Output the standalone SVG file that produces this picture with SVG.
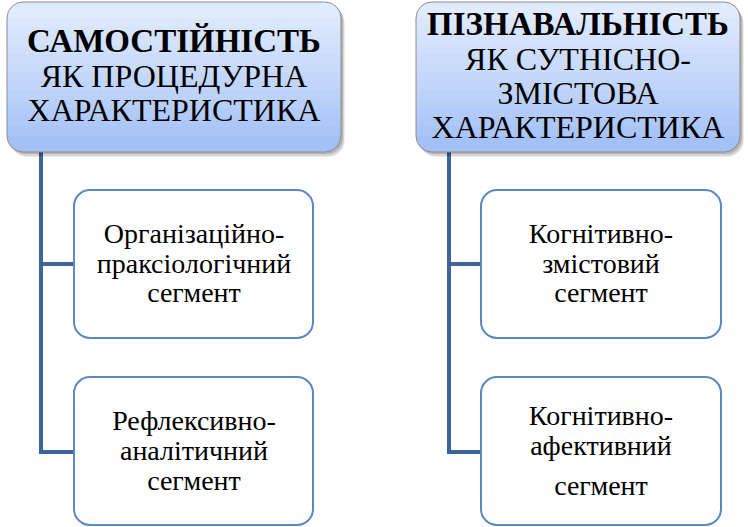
<svg xmlns="http://www.w3.org/2000/svg" width="748" height="527" viewBox="0 0 748 527">
<rect width="748" height="527" fill="#ffffff"/>
<g id="connectors" fill="none" stroke="#3e6497" stroke-width="4">
<path d="M41 152 V452 H74 M41 264 H74"/>
<path d="M449 152 V452 H481 M449 264 H481"/>
</g>
<g id="header-left">
<g fill="#000000" stroke="none">
<rect x="11" y="7" width="334" height="150" rx="17" opacity="0.07"/>
<rect x="10" y="6" width="334" height="150" rx="16" opacity="0.1"/>
<rect x="9" y="4" width="334" height="150" rx="16" opacity="0.15"/>
</g>
<g stroke="none">
<path fill="#e0ebfd" d="M7 19 V18 A16 16 0 0 1 23 2 H325 A16 16 0 0 1 341 18 V19 Z"/>
<rect fill="#dbe7fc" x="7" y="18" width="334" height="10"/>
<rect fill="#d7e5fc" x="7" y="27" width="334" height="10"/>
<rect fill="#d4e2fc" x="7" y="36" width="334" height="10"/>
<rect fill="#d0e0fc" x="7" y="45" width="334" height="10"/>
<rect fill="#ccddfb" x="7" y="54" width="334" height="10"/>
<rect fill="#c9dbfb" x="7" y="63" width="334" height="10"/>
<rect fill="#c5d8fb" x="7" y="72" width="334" height="10"/>
<rect fill="#c1d5fa" x="7" y="81" width="334" height="10"/>
<rect fill="#bcd2fa" x="7" y="90" width="334" height="10"/>
<rect fill="#b8cff9" x="7" y="99" width="334" height="10"/>
<rect fill="#b3cbf9" x="7" y="108" width="334" height="10"/>
<rect fill="#aec8f8" x="7" y="117" width="334" height="10"/>
<rect fill="#aac5f7" x="7" y="126" width="334" height="11"/>
<path fill="#a3c1f6" d="M7 136 H341 A16 16 0 0 1 325 152 H23 A16 16 0 0 1 7 136 Z"/>
</g>
<rect x="7" y="2" width="334" height="150" rx="16" fill="none" stroke="#8c8c8c" stroke-width="1"/>
<g font-family="'Liberation Serif', 'Times New Roman', serif" fill="#000000" text-anchor="middle">
<text font-size="33" font-weight="bold" x="174" y="52">САМОСТІЙНІСТЬ</text>
<text font-size="32" x="174" y="87">ЯК ПРОЦЕДУРНА</text>
<text font-size="32" x="174" y="121">ХАРАКТЕРИСТИКА</text>
</g>
</g>
<g id="header-right">
<g fill="#000000" stroke="none">
<rect x="420" y="7" width="324" height="150" rx="17" opacity="0.07"/>
<rect x="419" y="6" width="324" height="150" rx="16" opacity="0.1"/>
<rect x="418" y="4" width="324" height="150" rx="16" opacity="0.15"/>
</g>
<g stroke="none">
<path fill="#e0ebfd" d="M416 19 V18 A16 16 0 0 1 432 2 H724 A16 16 0 0 1 740 18 V19 Z"/>
<rect fill="#dbe7fc" x="416" y="18" width="324" height="10"/>
<rect fill="#d7e5fc" x="416" y="27" width="324" height="10"/>
<rect fill="#d4e2fc" x="416" y="36" width="324" height="10"/>
<rect fill="#d0e0fc" x="416" y="45" width="324" height="10"/>
<rect fill="#ccddfb" x="416" y="54" width="324" height="10"/>
<rect fill="#c9dbfb" x="416" y="63" width="324" height="10"/>
<rect fill="#c5d8fb" x="416" y="72" width="324" height="10"/>
<rect fill="#c1d5fa" x="416" y="81" width="324" height="10"/>
<rect fill="#bcd2fa" x="416" y="90" width="324" height="10"/>
<rect fill="#b8cff9" x="416" y="99" width="324" height="10"/>
<rect fill="#b3cbf9" x="416" y="108" width="324" height="10"/>
<rect fill="#aec8f8" x="416" y="117" width="324" height="10"/>
<rect fill="#aac5f7" x="416" y="126" width="324" height="11"/>
<path fill="#a3c1f6" d="M416 136 H740 A16 16 0 0 1 724 152 H432 A16 16 0 0 1 416 136 Z"/>
</g>
<rect x="416" y="2" width="324" height="150" rx="16" fill="none" stroke="#8c8c8c" stroke-width="1"/>
<g font-family="'Liberation Serif', 'Times New Roman', serif" fill="#000000" text-anchor="middle">
<text font-size="33" font-weight="bold" x="578" y="35">ПІЗНАВАЛЬНІСТЬ</text>
<text font-size="32" x="578" y="70">ЯК СУТНІСНО-</text>
<text font-size="32" x="578" y="104">ЗМІСТОВА</text>
<text font-size="32" x="578" y="138">ХАРАКТЕРИСТИКА</text>
</g>
</g>
<g id="node-org">
<rect x="74" y="190" width="239" height="148" rx="16" fill="#ffffff" stroke="#5b87c2" stroke-width="2"/>
<g font-family="'Liberation Serif', 'Times New Roman', serif" font-size="28" fill="#000000" text-anchor="middle">
<text x="194" y="243">Організаційно-</text>
<text x="194" y="273">праксіологічний</text>
<text x="194" y="302">сегмент</text>
</g>
</g>
<g id="node-refl">
<rect x="74" y="377" width="239" height="148" rx="16" fill="#ffffff" stroke="#5b87c2" stroke-width="2"/>
<g font-family="'Liberation Serif', 'Times New Roman', serif" font-size="28" fill="#000000" text-anchor="middle">
<text x="194" y="430">Рефлексивно-</text>
<text x="194" y="460">аналітичний</text>
<text x="194" y="490">сегмент</text>
</g>
</g>
<g id="node-kogn1">
<rect x="481" y="190" width="240" height="148" rx="16" fill="#ffffff" stroke="#5b87c2" stroke-width="2"/>
<g font-family="'Liberation Serif', 'Times New Roman', serif" font-size="28" fill="#000000" text-anchor="middle">
<text x="601" y="243">Когнітивно-</text>
<text x="601" y="273">змістовий</text>
<text x="601" y="302">сегмент</text>
</g>
</g>
<g id="node-kogn2">
<rect x="481" y="377" width="240" height="148" rx="16" fill="#ffffff" stroke="#5b87c2" stroke-width="2"/>
<g font-family="'Liberation Serif', 'Times New Roman', serif" font-size="28" fill="#000000" text-anchor="middle">
<text x="601" y="425">Когнітивно-</text>
<text x="601" y="455">афективний</text>
<text x="601" y="495">сегмент</text>
</g>
</g>
</svg>
